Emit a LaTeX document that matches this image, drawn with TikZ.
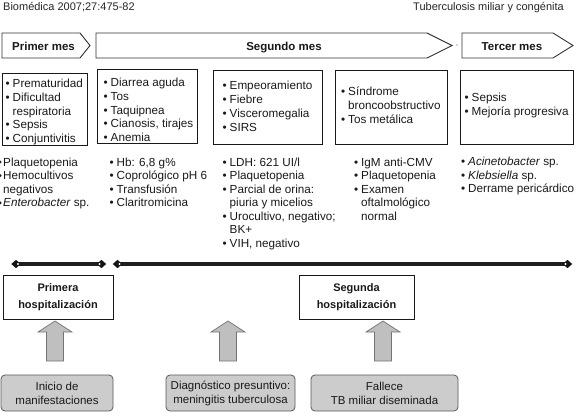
\documentclass[tikz,border=0pt]{standalone}
\usepackage{fontspec}
\setmainfont{Liberation Sans}
\usetikzlibrary{shapes.geometric}
\newcommand\bu{\makebox[7pt][l]{\textbullet}}
\newcommand\ct{\hspace*{7pt}}
\newcommand\mylist[5]{%
  \foreach [count=\i] \t in {#5} {\node[lt] (#1-\i) at ({#2},{#3+(\i-1)*#4}) {\t};}}
\newcommand\uparr[1]{%
  \draw[uparrow] (#1,321) -- (#1+17,332) -- (#1+8.5,332) -- (#1+8.5,361)
    -- (#1-8.5,361) -- (#1-8.5,332) -- (#1-17,332) -- cycle;}
\tikzset{
  lt/.style={anchor=base west, inner sep=0pt, font=\fontsize{11.7}{13.6}\selectfont, text=black!90},
  hdr/.style={inner sep=0pt, font=\fontsize{11}{13}\selectfont, text=black!85},
  mlabel/.style={inner sep=0pt, anchor=base, font=\bfseries\fontsize{11.5}{13}\selectfont, text=black!90},
  monthshape/.style={draw=black!80, line width=0.9pt, fill=white},
  listbox/.style={draw=black!90, line width=1pt},
  hbox/.style={draw=black!90, line width=0.9pt, align=center, inner sep=0pt,
    font=\bfseries\fontsize{11}{16.5}\selectfont, text=black!90},
  evbox/.style={draw=black!65, fill=black!20, rounded corners=4pt, line width=0.8pt,
    align=center, inner sep=0pt, minimum height=36pt, font=\fontsize{11.5}{14}\selectfont, text=black!90},
  uparrow/.style={draw=black!55, fill=black!25, line width=0.7pt},
  tline/.style={line width=3.6pt, draw=black!88},
  dmd/.style={diamond, fill=black!92, inner sep=0pt, minimum width=9.5pt, minimum height=8.5pt},
}
\begin{document}
\begin{tikzpicture}[x=1pt,y=-1pt]
\useasboundingbox (0,0) rectangle (578,418);
% header
\node[hdr, anchor=base west] (hdrL) at (3,10.5) {Biomédica 2007;27:475-82};
\node[hdr, anchor=base east] (hdrR) at (564,10.5) {Tuberculosis miliar y congénita};
% month arrows
\draw[monthshape] (2,33) -- (80,33) -- (90,45.5) -- (80,58) -- (2,58) -- cycle;
\draw[monthshape] (96,33) -- (427,33) -- (452,45.5) -- (427,58) -- (96,58) -- cycle;
\draw[monthshape] (462,33) -- (553,33) -- (573,45.5) -- (553,58) -- (462,58) -- cycle;
\fill[black!70] (457,45) circle (0.7);
\node[mlabel] (m1) at (43.5,50) {Primer mes};
\node[mlabel] (m2) at (284,50) {Segundo mes};
\node[mlabel] (m3) at (512,50) {Tercer mes};
% boxes
\draw[listbox] (2,73) rectangle (87,145);
\draw[listbox] (97,69) rectangle (197,143);
\draw[listbox] (213,70) rectangle (322,144);
\draw[listbox] (335,70) rectangle (447,144);
\draw[listbox] (460,70) rectangle (573,144);
\mylist{a}{5.5}{87.5}{13.75}{\bu Prematuridad, \bu Dificultad, \ct respiratoria, \bu Sepsis, \bu Conjuntivitis}
\mylist{b}{103.5}{86.5}{13.75}{\bu Diarrea aguda, \bu Tos, \bu Taquipnea, \bu Cianosis{,} tirajes, \bu Anemia}
\mylist{c}{222.5}{89}{14}{\bu Empeoramiento, \bu Fiebre, \bu Visceromegalia, \bu SIRS}
\mylist{d}{341}{95}{14}{\bu Síndrome, \ct broncoobstructivo, \bu Tos metálica}
\mylist{e}{464.5}{101}{14}{\bu Sepsis, \bu Mejoría progresiva}
% lower lists
\mylist{f}{3}{166}{13.6}{Plaquetopenia, Hemocultivos, negativos, \textit{Enterobacter} sp.}
\fill[black!85] (0,162) circle (1.7);
\fill[black!85] (0,175.6) circle (1.7);
\fill[black!85] (0,202.8) circle (1.7);
\mylist{g}{109.5}{166}{13.6}{\bu Hb: 6{,}8 g\%, \bu Coprológico pH 6, \bu Transfusión, \bu Claritromicina}
\mylist{h}{222.5}{166}{13.5}{\bu LDH: 621 UI/l, \bu Plaquetopenia, \bu Parcial de orina:, \ct piuria y micelios, \bu Urocultivo{,} negativo;, \ct BK+, \bu VIH{,} negativo}
\mylist{k}{354}{166}{13.6}{\bu IgM anti-CMV, \bu Plaquetopenia, \bu Examen, \ct oftalmológico, \ct normal}
\mylist{n}{461}{165.5}{13.6}{\bu \textit{Acinetobacter} sp., \bu \textit{Klebsiella} sp., \bu Derrame pericárdico}
% timeline
\coordinate (t1a) at (16,264);
\coordinate (t1b) at (101.5,264);
\coordinate (t2a) at (117.5,264);
\coordinate (t2b) at (567.5,264);
\draw[tline] (t1a) -- (t1b);
\draw[tline] (t2a) -- (t2b);
\node[dmd] (d1) at (t1a) {};
\node[dmd] (d2) at (t1b) {};
\node[dmd] (d3) at (t2a) {};
\node[dmd] (d4) at (t2b) {};
\fill[white] ([xshift=2pt]d1.center) circle (1.2pt);
\fill[white] ([xshift=-2pt]d2.center) circle (1.2pt);
\fill[white] ([xshift=2pt]d3.center) circle (1.2pt);
\fill[white] ([xshift=-2pt]d4.center) circle (1.2pt);
% hospitalizations
\node[hbox, minimum width=110pt, minimum height=44pt] (h1) at (58,297) {Primera\\hospitalización};
\node[hbox, minimum width=115pt, minimum height=44pt] (h2) at (356.5,297) {Segunda\\hospitalización};
% up arrows
\uparr{55}
\uparr{228}
\uparr{383}
% event boxes
\node[evbox, minimum width=112pt] (e1) at (57,393) {Inicio de\\manifestaciones};
\node[evbox, minimum width=129pt] (e2) at (230.5,393) {Diagnóstico presuntivo:\\meningitis tuberculosa};
\node[evbox, minimum width=147pt] (e3) at (384.5,393) {Fallece\\TB miliar diseminada};
\end{tikzpicture}
\end{document}
